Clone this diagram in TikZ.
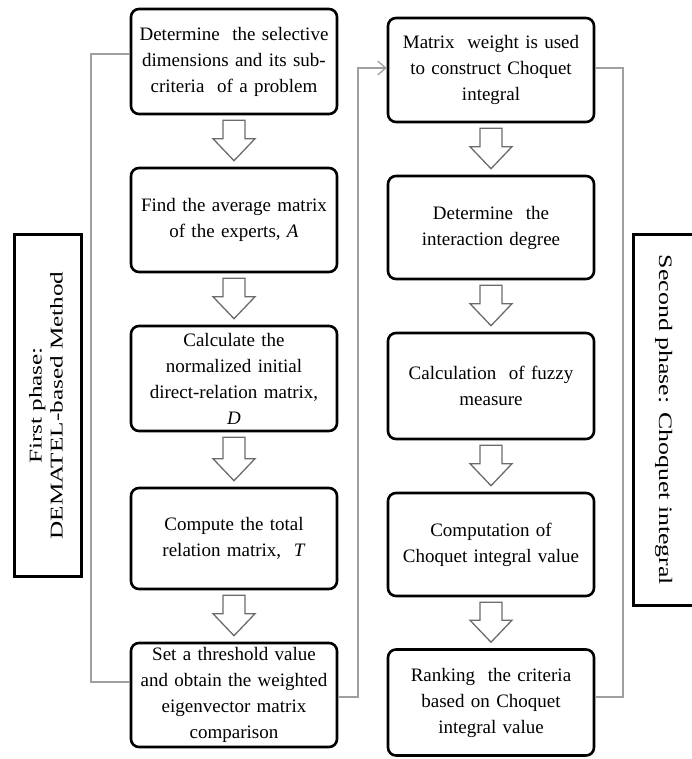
\documentclass[tikz,border=0pt]{standalone}
\usepackage{fontspec}
\setmainfont{Liberation Serif}
\usetikzlibrary{calc,arrows.meta}
\tikzset{
  box/.style={draw=black, line width=2.6pt, rounded corners=8pt, minimum width=206pt,
    text width=204pt, align=center, inner sep=0pt, fill=white,
    font=\fontsize{19}{26}\selectfont},
  phase/.style={draw=black, line width=3pt, inner sep=0pt},
  conn/.style={draw=gray!75, line width=1.5pt},
  barr/.style={draw=gray!85!black, line width=1.3pt, fill=white, line join=miter},
}
\newcommand\blockarrow[2]{%
  \draw[barr] let \p1=(#1.south), \p2=(#2.north) in
    (\x1-11pt,\y1-5pt) -- (\x1-11pt,\y2+28pt) -- (\x1-21pt,\y2+28pt) --
    (\x1,\y2+6pt) -- (\x1+21pt,\y2+28pt) -- (\x1+11pt,\y2+28pt) --
    (\x1+11pt,\y1-5pt) -- cycle;}
\begin{document}
\begin{tikzpicture}[x=1pt,y=-1pt]
\useasboundingbox[fill=white] (0,0) rectangle (691,759);

% coordinates for connectors
\coordinate (k1) at (91,54);
\coordinate (k2) at (91,682);
\coordinate (k3) at (358,697);
\coordinate (k4) at (358,68);
\coordinate (k5) at (623,68);
\coordinate (k6) at (623,697);

% left column
\node[box, minimum height=105pt] (L1) at (234,61.5)
  {Determine\ \ the selective\\ dimensions and its sub-\\ criteria\ \ of a problem};
\node[box, minimum height=104pt] (L2) at (234,220)
  {Find the average matrix\\ of the experts, \textit{A}};
\node[box, minimum height=105pt] (L3) at (234,378.5)
  {Calculate the\\ normalized initial\\ direct-relation matrix,\\ \textit{D}};
\node[box, minimum height=101pt] (L4) at (234,538.5)
  {Compute the total\\ relation matrix,\ \ \textit{T}};
\node[box, minimum height=104pt] (L5) at (234,695)
  {Set a threshold value\\ and obtain the weighted\\ eigenvector matrix\\ comparison};

% right column
\node[box, minimum height=104pt] (R1) at (491,70)
  {Matrix\ \ weight is used\\ to construct Choquet\\ integral};
\node[box, minimum height=103pt] (R2) at (491,227.5)
  {Determine\ \ the\\ interaction degree};
\node[box, minimum height=106pt] (R3) at (491,386)
  {Calculation\ \ of fuzzy\\ measure};
\node[box, minimum height=103pt] (R4) at (491,544.5)
  {Computation of\\ Choquet integral value};
\node[box, minimum height=106pt] (R5) at (491,702.5)
  {Ranking\ \ the criteria\\ based on Choquet\\ integral value};

% block arrows
\blockarrow{L1}{L2}
\blockarrow{L2}{L3}
\blockarrow{L3}{L4}
\blockarrow{L4}{L5}
\blockarrow{R1}{R2}
\blockarrow{R2}{R3}
\blockarrow{R3}{R4}
\blockarrow{R4}{R5}

% connectors
\draw[conn] (L1.west |- k1) -- (k1) -- (k2) -- (L5.west |- k2);
\draw[conn, -{Straight Barb[length=8pt,width=14pt,line width=1.3pt]}]
  (L5.east |- k3) -- (k3) -- (k4) -- (R1.west |- k4);
\draw[conn] (R1.east |- k5) -- (k5) -- (k6) -- (R5.east |- k6);

% phase boxes
\node[phase, rotate=90, minimum width=342pt, minimum height=67pt] (P1) at (48,405.5)
  {\scalebox{1.4}[1]{\fontsize{18}{21}\selectfont
   \begin{tabular}{@{}c@{}}First phase:\\ DEMATEL-based Method\end{tabular}}};
\node[phase, rotate=-90, minimum width=371pt, minimum height=61pt] (P2) at (663.75,420)
  {\scalebox{1.36}[1]{\fontsize{19}{22}\selectfont Second phase: Choquet integral}};
\end{tikzpicture}
\end{document}
